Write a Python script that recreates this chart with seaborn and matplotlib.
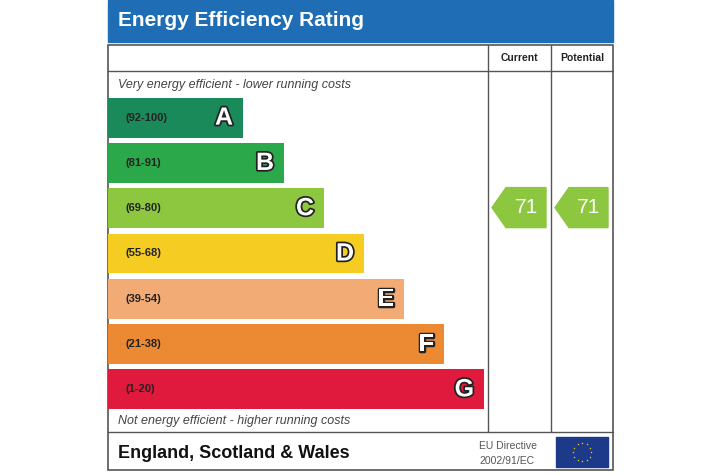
import matplotlib
matplotlib.use('Agg')
import matplotlib.pyplot as plt
import matplotlib.patheffects as pe
from matplotlib.patches import Rectangle, Polygon
import seaborn as sns
import pandas as pd
import numpy as np

bands = ['A', 'B', 'C', 'D', 'E', 'F', 'G']
ranges = ['(92-100)', '(81-91)', '(69-80)', '(55-68)', '(39-54)', '(21-38)', '(1-20)']
bar_len = [135, 176, 216, 256, 296, 336, 376]
colors = ['#1b8a5a', '#2ba84a', '#8dc63f', '#f4cc22', '#f2ab74', '#ec8a34', '#e01a3c']
current = 71
potential = 71

sns.set_theme(style='white')
plt.rcParams['font.family'] = ['Liberation Sans', 'DejaVu Sans']

fig = plt.figure(figsize=(7.2, 4.75), dpi=100)
ax = fig.add_axes([0, 0, 1, 1])
ax.set_xlim(0, 720)
ax.set_ylim(475, 0)
ax.axis('off')

# title bar + frame
ax.add_patch(Rectangle((108, 0), 505, 42, color='#1f6db5'))
ax.text(118, 21, 'Energy Efficiency Rating', color='white', fontsize=15,
        fontweight='bold', va='center')
ax.add_patch(Rectangle((108, 45), 505, 425, fill=False, ec='#555555', lw=1.2))
ax.plot([108, 613], [71, 71], color='#555555', lw=1)
ax.plot([108, 613], [432, 432], color='#555555', lw=1)
ax.plot([488, 488], [45, 432], color='#555555', lw=1)
ax.plot([551, 551], [45, 432], color='#555555', lw=1)
ax.text(519, 58, 'Current', fontsize=7.5, fontweight='bold', ha='center', va='center', color='#222222')
ax.text(582, 58, 'Potential', fontsize=7.5, fontweight='bold', ha='center', va='center', color='#222222')
ax.text(118, 85, 'Very energy efficient - lower running costs', fontsize=9,
        style='italic', va='center', color='#444444')
ax.text(118, 421, 'Not energy efficient - higher running costs', fontsize=9,
        style='italic', va='center', color='#444444')
ax.text(118, 453, 'England, Scotland & Wales', fontsize=13, fontweight='bold',
        va='center', color='#111111')
ax.text(479, 446, 'EU Directive', fontsize=7.5, va='center', color='#555555')
ax.text(479, 461, '2002/91/EC', fontsize=7.5, va='center', color='#555555')
ax.add_patch(Rectangle((556, 437), 52, 30, color='#1d3a8a'))
ang = np.linspace(0, 2 * np.pi, 13)[:-1]
ax.scatter(582 + 9 * np.cos(ang), 452 + 9 * np.sin(ang), marker='*', s=3,
           color='#f5d60a', zorder=5, linewidths=0)

# bars
bx = fig.add_axes([108 / 720, (475 - 412) / 475, 380 / 720, (412 - 95) / 475])
df = pd.DataFrame({'band': bands, 'len': bar_len})
sns.barplot(data=df, x='len', y='band', hue='band', palette=colors, saturation=1,
            orient='h', width=0.88, legend=False, linewidth=0, ax=bx)
bx.set_xlim(0, 380)
bx.axis('off')
for i, (b, r, l) in enumerate(zip(bands, ranges, bar_len)):
    bx.text(18, i, r, fontsize=8, fontweight='bold', va='center', color='#222222')
    bx.text(l - 10, i, b, fontsize=18, fontweight='bold', va='center', ha='right',
            color='white', path_effects=[pe.withStroke(linewidth=2.5, foreground='#222222')])

# rating arrows
def band_row(v):
    lows = [92, 81, 69, 55, 39, 21, 1]
    return next(i for i, lo in enumerate(lows) if v >= lo)

for val, x0, x1 in [(current, 492, 546), (potential, 555, 608)]:
    i = band_row(val)
    yc = 117 + i * 45.3
    h = 20
    ax.add_patch(Polygon([(x0, yc), (x0 + 14, yc - h), (x1, yc - h), (x1, yc + h),
                          (x0 + 14, yc + h)], color=colors[i]))
    ax.text((x0 + 14 + x1) / 2, yc, str(val), color='white', fontsize=15,
            ha='center', va='center')

fig.savefig('out.png', dpi=100)
